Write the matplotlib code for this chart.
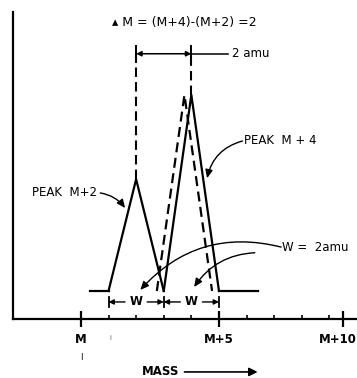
import matplotlib
matplotlib.use('Agg')
import matplotlib.pyplot as plt
import matplotlib.transforms as mtransforms

# mass axis (units of amu from M)
major_ticks = [0, 5, 9.5]
major_labels = ['M', 'M+5', 'M+10']
minor_ticks = [1, 2, 3, 4, 6, 7, 8, 9]

# peaks (relative intensity, baseline = 0)
m2_x = [1, 2, 3]
m2_y = [0, 57, 0]
m4_x = [3, 4, 5]
m4_y = [0, 100, 0]
m4_dash_x = [2.75, 3.75, 4.75]
m4_dash_y = [0, 100, 0]
base_left_x = [0.33, 1]
base_right_x = [5, 6.4]

fs = 8.5
fig = plt.figure(figsize=(3.57, 3.78), dpi=100)
ax = fig.add_axes([13/357, 59/378, 344/357, 307/378])
ax.set_xlim(-2.46, 10.0)
ax.set_ylim(-14.3, 142.3)
for s in ['top', 'right']:
    ax.spines[s].set_visible(False)
ax.spines['left'].set_linewidth(1.6)
ax.spines['bottom'].set_linewidth(1.6)
ax.set_yticks([])

ax.set_xticks(major_ticks)
ax.set_xticklabels(major_labels, fontsize=fs, fontweight='bold')
ax.set_xticks(minor_ticks, minor=True)
ax.tick_params(axis='x', which='major', direction='inout', length=12, width=1.6, pad=4)
ax.tick_params(axis='x', which='minor', direction='in', length=3, width=1.2)
# last label sits at the right edge, keep it inside the figure
last = ax.get_xticklabels()[2]
last.set_horizontalalignment('right')
last.set_transform(last.get_transform() +
                   mtransforms.ScaledTranslation(14/100, 0, fig.dpi_scale_trans))

lw = 1.6
dash = (4.5, 2.5)
ax.plot(m2_x, m2_y, color='black', lw=lw)
ax.plot(m4_x, m4_y, color='black', lw=lw)
ax.plot(m4_dash_x, m4_dash_y, color='black', lw=lw, dashes=dash)
ax.plot(base_left_x, [0, 0], color='black', lw=lw)
ax.plot(base_right_x, [0, 0], color='black', lw=lw)

# dashed guides at peak centres
ax.plot([2, 2], [57, 121], color='black', lw=1.5, dashes=dash)
ax.plot([4, 4], [100, 121], color='black', lw=1.5, dashes=dash)

# 2 amu dimension
ax.annotate('', xy=(2, 121), xytext=(4, 121),
            arrowprops=dict(arrowstyle='<|-|>,head_length=0.3,head_width=0.15',
                            color='black', lw=1.1, shrinkA=0, shrinkB=0))
ax.plot([4, 5.33], [121, 121], color='black', lw=1.1)
ax.plot([2, 2], [117, 125], color='black', lw=1.4)
ax.plot([4, 4], [117, 125], color='black', lw=1.4)
ax.text(5.47, 121, '2 amu', fontsize=fs, va='center', ha='left')

ax.text(3.75, 137, '▴ M = (M+4)-(M+2) =2', fontsize=9, va='center', ha='center')

# peak labels
ax.text(5.9, 76.5, 'PEAK  M + 4', fontsize=fs, va='center', ha='left')
ax.annotate('', xy=(4.57, 57.5), xytext=(5.85, 76.5),
            arrowprops=dict(arrowstyle='-|>,head_length=0.5,head_width=0.22',
                            color='black', lw=1.0, connectionstyle='arc3,rad=0.3',
                            shrinkA=0, shrinkB=0))
ax.text(0.6, 50, 'PEAK  M+2', fontsize=fs, va='center', ha='right')
ax.annotate('', xy=(1.6, 42.3), xytext=(0.7, 50),
            arrowprops=dict(arrowstyle='-|>,head_length=0.5,head_width=0.22',
                            color='black', lw=1.0, connectionstyle='arc3,rad=-0.2',
                            shrinkA=0, shrinkB=0))

# W labels
ax.text(7.3, 22.4, 'W =  2amu', fontsize=fs, va='center', ha='left')
ax.annotate('', xy=(2.15, 0.5), xytext=(7.25, 22.4),
            arrowprops=dict(arrowstyle='-|>,head_length=0.5,head_width=0.22',
                            color='black', lw=1.0, connectionstyle='arc3,rad=0.3',
                            shrinkA=0, shrinkB=0))
ax.annotate('', xy=(4.1, 2), xytext=(6.3, 19.5),
            arrowprops=dict(arrowstyle='-|>,head_length=0.5,head_width=0.22',
                            color='black', lw=1.0, connectionstyle='arc3,rad=0.25',
                            shrinkA=0, shrinkB=0))

# W dimension marks
yw = -5.6
for xs in [(1, 3), (3, 5)]:
    a, b = xs
    ax.text((a + b) / 2, yw, 'W', fontsize=fs, va='center', ha='center', fontweight='bold')
    ax.annotate('', xy=(a, yw), xytext=(a + 0.6, yw),
                arrowprops=dict(arrowstyle='-|>,head_length=0.3,head_width=0.15',
                                color='black', lw=1.0, shrinkA=0, shrinkB=0))
    ax.annotate('', xy=(b, yw), xytext=(b - 0.6, yw),
                arrowprops=dict(arrowstyle='-|>,head_length=0.3,head_width=0.15',
                                color='black', lw=1.0, shrinkA=0, shrinkB=0))
for xb in [1, 3, 5]:
    ax.plot([xb, xb], [yw - 2.5, yw + 2.5], color='black', lw=1.3)

# mass label with arrow
ax.text(2.2, -41.3, 'MASS', fontsize=fs, va='center', ha='left', fontweight='bold',
        clip_on=False)
ax.annotate('', xy=(6.4, -41.3), xytext=(3.75, -41.3), annotation_clip=False,
            arrowprops=dict(arrowstyle='-|>,head_length=0.5,head_width=0.25',
                            color='black', lw=1.2, shrinkA=0, shrinkB=0))
ax.text(1.05, -24, 'i', fontsize=5, va='center', ha='center', color='0.4', clip_on=False)
ax.text(0, -34, 'I', fontsize=6, va='center', ha='center', clip_on=False)

fig.savefig('out.png', dpi=100)
